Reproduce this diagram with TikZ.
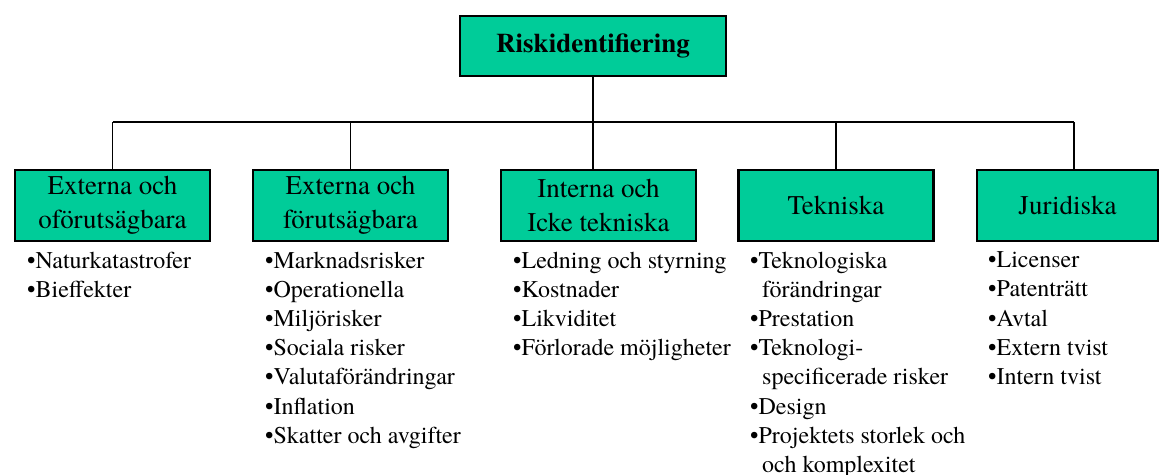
\documentclass[tikz,border=0pt]{standalone}
\usepackage{fontspec}
\setmainfont{TeX Gyre Termes}
\usepackage{tikz}
\definecolor{riskgreen}{RGB}{0,204,153}

\begin{document}
\begin{tikzpicture}[x=1pt,y=-1pt,riskbox/.style={shape=rectangle,draw=black,fill=riskgreen,line width=2.2pt,align=center,inner sep=0,minimum width=195pt,minimum height=71pt,font=\fontsize{27}{34}\selectfont},punkter/.style={anchor=north west,align=left,inner sep=0,font=\fontsize{24}{29.2}\selectfont},linje/.style={draw=black,line width=1.3pt}]

\useasboundingbox (0,0) rectangle (1161,474);

\node [riskbox, minimum width=266pt, minimum height=60pt, font=\fontsize{27}{34}\selectfont\bfseries] (root) at (593,46) {Riskidentifiering};

\node [riskbox] (ext1) at (112.5,205.5) {Externa och\\oförutsägbara};
\node [riskbox] (ext2) at (350.5,205.5) {Externa och\\förutsägbara};
\node [riskbox] (int) at (598.5,205.5) {Interna och\\Icke tekniska};
\node [riskbox] (tek) at (836,205.5) {Tekniska};
\node [riskbox, minimum width=181pt] (jur) at (1067.5,205.5) {Juridiska};

\coordinate (bus) at (593,122);
\coordinate (jurfot) at (1074,122);

    \path[linje] (root) edge (bus);
    \path[linje] (ext1 |- bus) edge (jurfot);
    \path[linje] (ext1 |- bus) edge (ext1);
    \path[linje] (ext2 |- bus) edge (ext2);
    \path[linje] (bus) edge (bus |- int.north);
    \path[linje] (tek |- bus) edge (tek);
    \path[linje] (jurfot) edge (jurfot |- jur.north);

\node [punkter] (p1) at (27,251.6) {•Naturkatastrofer\\•Bieffekter};
\node [punkter] (p2) at (265,251.6) {•Marknadsrisker\\•Operationella\\•Miljörisker\\•Sociala risker\\•Valutaförändringar\\•Inflation\\•Skatter och avgifter};
\node [punkter] (p3) at (513,251.6) {•Ledning och styrning\\•Kostnader\\•Likviditet\\•Förlorade möjligheter};
\node [punkter] (p4) at (750,251.6) {•Teknologiska\\\hspace*{12pt}förändringar\\•Prestation\\•Teknologi-\\\hspace*{12pt}specificerade risker\\•Design\\•Projektets storlek och\\\hspace*{12pt}och komplexitet};
\node [punkter] (p5) at (988,251.6) {•Licenser\\•Patenträtt\\•Avtal\\•Extern tvist\\•Intern tvist};

\end{tikzpicture}
\end{document}
